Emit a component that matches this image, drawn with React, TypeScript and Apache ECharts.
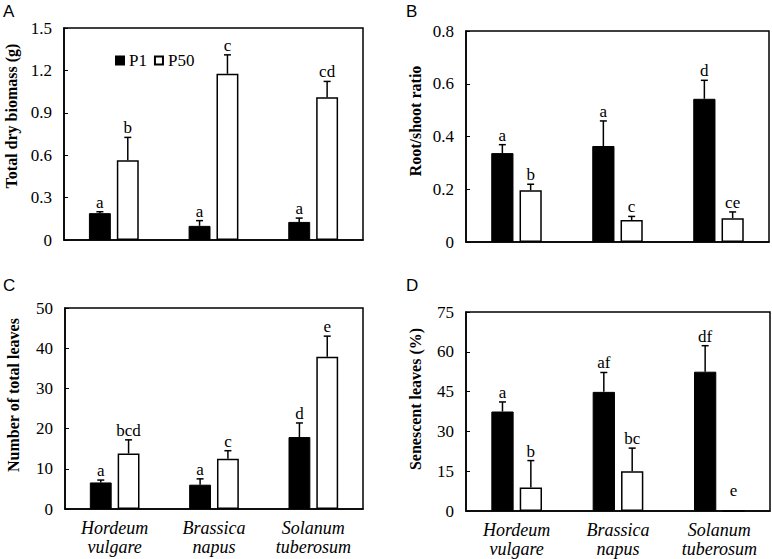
import React, { useEffect, useRef } from "react";
import * as echarts from "echarts";

const categories = ["Hordeum\nvulgare", "Brassica\nnapus", "Solanum\ntuberosum"];
const seriesNames = ["P1", "P50"];

// Panel A: total dry biomass (g)
const biomassP1 = [0.19, 0.1, 0.128];
const biomassP1Top = [0.2, 0.137, 0.155];
const biomassP50 = [0.565, 1.176, 1.01];
const biomassP50Top = [0.726, 1.31, 1.122];
const biomassP1Letters = ["a", "a", "a"];
const biomassP50Letters = ["b", "c", "cd"];

// Panel B: root/shoot ratio
const ratioP1 = [0.337, 0.364, 0.543];
const ratioP1Top = [0.369, 0.459, 0.613];
const ratioP50 = [0.196, 0.083, 0.09];
const ratioP50Top = [0.219, 0.097, 0.114];
const ratioP1Letters = ["a", "a", "d"];
const ratioP50Letters = ["b", "c", "ce"];

// Panel C: number of total leaves
const leavesP1 = [6.6, 6.05, 17.9];
const leavesP1Top = [7.2, 7.5, 21.4];
const leavesP50 = [13.8, 12.5, 37.9];
const leavesP50Top = [17.2, 14.5, 43.0];
const leavesP1Letters = ["a", "a", "d"];
const leavesP50Letters = ["bcd", "c", "e"];

// Panel D: senescent leaves (%)
const senescP1 = [37.5, 44.9, 52.5];
const senescP1Top = [41.1, 52.2, 62.3];
const senescP50 = [8.9, 15.0, 0];
const senescP50Top = [19.0, 23.7, 0];
const senescP1Letters = ["a", "af", "df"];
const senescP50Letters = ["b", "bc", "e"];

const yNames = ["Total dry biomass (g)", "Root/shoot ratio", "Number of total leaves", "Senescent leaves (%)"];
const yMax = [1.5, 0.8, 50, 75];
const yInterval = [0.3, 0.2, 10, 15];
const panelLetters = ["A", "B", "C", "D"];

const SERIF = "'Liberation Serif', 'Times New Roman', serif";
const SANS = "'Liberation Sans', Arial, sans-serif";
const BAR_FRAC = 0.22;
const GAP_FRAC = 0.06;

const grids = [
  { left: 64, top: 28, width: 299, height: 212 },
  { left: 466, top: 31, width: 303, height: 211 },
  { left: 65, top: 308, width: 298, height: 201 },
  { left: 466, top: 312, width: 304, height: 199 },
];

// centre positions of the rotated y-axis titles and panel letters
const yNamePos = [
  [11, 116],
  [415, 121],
  [13, 395],
  [415, 399],
];
const panelLetterPos = [
  [3, 3],
  [406, 3],
  [3, 277],
  [406, 277],
];

const panels = [
  { p1: biomassP1, p1Top: biomassP1Top, p50: biomassP50, p50Top: biomassP50Top, l1: biomassP1Letters, l50: biomassP50Letters },
  { p1: ratioP1, p1Top: ratioP1Top, p50: ratioP50, p50Top: ratioP50Top, l1: ratioP1Letters, l50: ratioP50Letters },
  { p1: leavesP1, p1Top: leavesP1Top, p50: leavesP50, p50Top: leavesP50Top, l1: leavesP1Letters, l50: leavesP50Letters },
  { p1: senescP1, p1Top: senescP1Top, p50: senescP50, p50Top: senescP50Top, l1: senescP1Letters, l50: senescP50Letters },
];

function errorSeries(idx: number, values: number[], tops: number[], letters: string[], side: number) {
  return {
    type: "custom",
    xAxisIndex: idx,
    yAxisIndex: idx,
    z: 5,
    silent: true,
    data: values.map((v, i) => [i, v, tops[i]]),
    renderItem: (params: any, api: any) => {
      const cat = api.value(0);
      const v = api.value(1);
      const top = api.value(2);
      const band = api.size([1, 0])[0];
      const off = side * band * (BAR_FRAC / 2 + GAP_FRAC / 2);
      const p0 = api.coord([cat, v]);
      const p1 = api.coord([cat, top]);
      const x = p0[0] + off;
      const children: any[] = [];
      if (top > v) {
        children.push({
          type: "line",
          shape: { x1: x, y1: p0[1], x2: x, y2: p1[1] },
          style: { stroke: "#000", lineWidth: 1.5 },
        });
        children.push({
          type: "line",
          shape: { x1: x - 3.5, y1: p1[1], x2: x + 3.5, y2: p1[1] },
          style: { stroke: "#000", lineWidth: 1.5 },
        });
      }
      const lift = top === 0 ? 11 : 0;
      children.push({
        type: "text",
        x: x,
        y: p1[1] - 1 - lift,
        style: {
          text: letters[params.dataIndex],
          fill: "#000",
          font: `17px ${SERIF}`,
          align: "center",
          verticalAlign: "bottom",
        },
      });
      return { type: "group", children };
    },
  };
}

export default function App() {
  const ref = useRef<HTMLDivElement>(null);
  useEffect(() => {
    if (!ref.current) return;
    const chart = echarts.init(ref.current, null, { renderer: "svg" });
    const series: any[] = [];
    panels.forEach((p, i) => {
      series.push({
        name: seriesNames[0],
        type: "bar",
        xAxisIndex: i,
        yAxisIndex: i,
        data: p.p1,
        barWidth: `${BAR_FRAC * 100}%`,
        barGap: `${(GAP_FRAC / BAR_FRAC) * 100}%`,
        itemStyle: { color: "#000", borderColor: "#000", borderWidth: 1 },
      });
      series.push({
        name: seriesNames[1],
        type: "bar",
        xAxisIndex: i,
        yAxisIndex: i,
        data: p.p50,
        barWidth: `${BAR_FRAC * 100}%`,
        barGap: `${(GAP_FRAC / BAR_FRAC) * 100}%`,
        itemStyle: { color: "#fff", borderColor: "#000", borderWidth: 1.5 },
      });
      series.push(errorSeries(i, p.p1, p.p1Top, p.l1, -1));
      series.push(errorSeries(i, p.p50, p.p50Top, p.l50, 1));
    });

    const graphic: any[] = [];
    panelLetters.forEach((t, i) => {
      graphic.push({
        type: "text",
        left: panelLetterPos[i][0],
        top: panelLetterPos[i][1],
        style: { text: t, font: `17px ${SANS}`, fill: "#000" },
      });
    });
    yNames.forEach((t, i) => {
      graphic.push({
        type: "text",
        x: yNamePos[i][0],
        y: yNamePos[i][1],
        rotation: Math.PI / 2,
        style: {
          text: t,
          font: `bold 16px ${SERIF}`,
          fill: "#000",
          align: "center",
          verticalAlign: "middle",
        },
      });
    });

    const option: any = {
      animation: false,
      backgroundColor: "#fff",
      legend: {
        data: seriesNames,
        left: 110,
        top: 47,
        itemWidth: 8,
        itemHeight: 8,
        itemGap: 7,
        icon: "rect",
        textStyle: { fontFamily: SERIF, fontSize: 17, color: "#000" },
        selectedMode: false,
      },
      grid: grids.map((g) => ({
        ...g,
        show: true,
        borderColor: "#000",
        borderWidth: 1.5,
        backgroundColor: "transparent",
      })),
      xAxis: grids.map((_, i) => ({
        type: "category",
        gridIndex: i,
        data: categories,
        axisLine: { show: true, lineStyle: { color: "#000", width: 1.5 } },
        axisTick: { show: false },
        axisLabel: {
          show: i >= 2,
          fontFamily: SERIF,
          fontStyle: "italic",
          fontSize: 18,
          color: "#000",
          lineHeight: 19,
          margin: 9,
        },
      })),
      yAxis: grids.map((_, i) => ({
        type: "value",
        gridIndex: i,
        min: 0,
        max: yMax[i],
        interval: yInterval[i],
        axisLine: { show: true, lineStyle: { color: "#000", width: 1.5 } },
        axisTick: { show: true, inside: true, length: 4, lineStyle: { color: "#000", width: 1 } },
        splitLine: { show: false },
        axisLabel: {
          fontFamily: SERIF,
          fontSize: 17,
          color: "#000",
          margin: 12,
          formatter: (v: number) => (v === 0 ? "0" : yMax[i] < 5 ? v.toFixed(1) : String(v)),
        },
      })),
      graphic,
      series,
    };
    chart.setOption(option);
    return () => chart.dispose();
  }, []);
  return (
    <div
      ref={ref}
      style={{ position: "absolute", left: 0, top: 0, width: 772, height: 559, background: "#fff" }}
    />
  );
}
